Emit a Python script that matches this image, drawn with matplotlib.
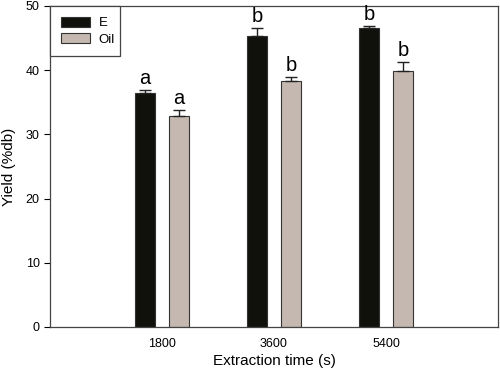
import numpy as np
import matplotlib
matplotlib.use("Agg")
import matplotlib.pyplot as plt

plt.rcParams['font.family'] = ['Liberation Sans', 'DejaVu Sans']

times = [1800, 3600, 5400]
e_yield = [36.5, 45.3, 46.6]
e_err = [0.4, 1.3, 0.3]
oil_yield = [32.9, 38.3, 39.8]
oil_err = [0.9, 0.6, 1.5]
e_letters = ['a', 'b', 'b']
oil_letters = ['a', 'b', 'b']

fig = plt.figure(figsize=(5, 3.72), dpi=100)
ax = fig.add_axes([0.1, 0.121, 0.896, 0.863])

x = np.array(times)
w = 320
off = 272
ax.bar(x - off, e_yield, w, color='#11110c', edgecolor='#333333', linewidth=0.8, label='E')
ax.bar(x + off, oil_yield, w, color='#c4b8b0', edgecolor='#333333', linewidth=0.8, label='Oil')
ax.errorbar(x - off, e_yield, yerr=[np.zeros(3), e_err], fmt='none', ecolor='#222222',
            elinewidth=1, capsize=4, capthick=1)
ax.errorbar(x + off, oil_yield, yerr=[np.zeros(3), oil_err], fmt='none', ecolor='#222222',
            elinewidth=1, capsize=4, capthick=1)

for xi, v, er, t in zip(x - off, e_yield, e_err, e_letters):
    ax.text(xi, v + er + 0.3, t, ha='center', va='bottom', fontsize=14.5)
for xi, v, er, t in zip(x + off, oil_yield, oil_err, oil_letters):
    ax.text(xi, v + er + 0.3, t, ha='center', va='bottom', fontsize=14.5)

ax.set_xlim(0, 7200)
ax.set_ylim(0, 50)
ax.set_xticks(times)
ax.set_yticks([0, 10, 20, 30, 40, 50])
ax.tick_params(axis='x', length=0, labelsize=9, pad=8)
ax.tick_params(axis='y', direction='out', length=4, labelsize=9)
for s in ax.spines.values():
    s.set_color('#444444')
    s.set_linewidth(0.9)

ax.set_xlabel('Extraction time (s)', fontsize=11, labelpad=3)
ax.set_ylabel('Yield (%db)', fontsize=11, labelpad=7)

leg = ax.legend(loc='upper left', bbox_to_anchor=(0, 0.85, 0.156, 0.15), mode='expand',
                borderaxespad=0, fontsize=9.5, handlelength=2.25, handleheight=0.8,
                handletextpad=0.65, fancybox=False, framealpha=1, borderpad=0.8,
                labelspacing=0.3)
leg.get_frame().set_edgecolor('#444444')
leg.get_frame().set_linewidth(0.9)

fig.savefig('out.png', dpi=100)
